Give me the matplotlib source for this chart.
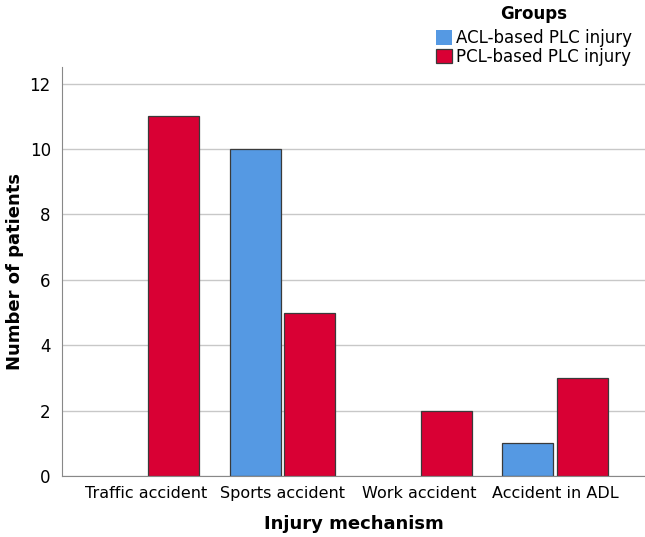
import numpy as np
import matplotlib.pyplot as plt

# injury mechanism counts per group
categories = ["Traffic accident", "Sports accident", "Work accident", "Accident in ADL"]
acl_counts = [0, 10, 0, 1]
pcl_counts = [11, 5, 2, 3]
groups = ["ACL-based PLC injury", "PCL-based PLC injury"]
yticks = [0, 2, 4, 6, 8, 10, 12]

blue = "#5599e3"
red = "#d90034"
edge = "#3a3a3a"

fig = plt.figure(figsize=(6.45, 5.37), dpi=100)
ax = fig.add_axes([0.096, 0.1136, 0.904, 0.761])

x = np.arange(len(categories))
w = 0.375
off = 0.2
ax.set_axisbelow(True)
ax.grid(axis="y", color="#c8c8c8", linewidth=1)
b1 = ax.bar(x - off, acl_counts, w, color=blue, edgecolor=edge, linewidth=0.9)
b2 = ax.bar(x + off, pcl_counts, w, color=red, edgecolor=edge, linewidth=0.9)
# empty groups show no outline
for bars, vals in ((b1, acl_counts), (b2, pcl_counts)):
    for b, v in zip(bars, vals):
        if v == 0:
            b.set_linewidth(0)

ax.set_xlim(-0.62, 3.66)
ax.set_ylim(0, 12.5)
ax.set_yticks(yticks)
ax.set_xticks(x)
ax.set_xticklabels(categories, fontsize=11.5)
ax.tick_params(axis="y", labelsize=12, length=0, pad=8)
ax.tick_params(axis="x", length=0, pad=7)
for s in ["top", "right"]:
    ax.spines[s].set_visible(False)
for s in ["left", "bottom"]:
    ax.spines[s].set_color("#888888")

ax.set_xlabel("Injury mechanism", fontsize=13, fontweight="bold", labelpad=10)
ax.set_ylabel("Number of patients", fontsize=13, fontweight="bold", labelpad=4)

leg = fig.legend([b1, b2], groups, title="Groups", loc="upper right",
                 bbox_to_anchor=(1.0, 1.015), frameon=False, fontsize=12,
                 title_fontproperties={"weight": "bold", "size": 12},
                 handlelength=1.0, handleheight=1.0, handletextpad=0.2,
                 labelspacing=0.05, borderpad=0.3)
leg._legend_box.sep = 4

fig.savefig("out.png", dpi=100)
